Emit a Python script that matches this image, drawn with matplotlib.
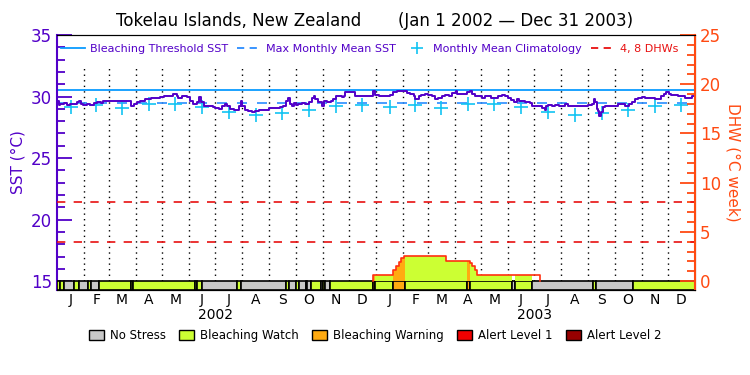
import numpy as np
import matplotlib
matplotlib.use('Agg')
import matplotlib.pyplot as plt
from matplotlib.lines import Line2D
from matplotlib.patches import Patch
from matplotlib.ticker import MultipleLocator

# ------------------------------------------------------------------------------
# data (day 0 = Jan 1 2002)

sst_day = [0, 2, 4, 8, 11, 15, 19, 23, 25, 27, 30, 34, 36, 38, 42, 46, 50, 53, 85, 88,
           91, 95, 101, 107, 112, 118, 122, 126, 133, 137, 139, 143, 147, 149, 152, 156,
           160, 163, 165, 168, 173, 179, 181, 185, 189, 192, 194, 198, 202, 208, 210, 212,
           215, 219, 223, 227, 231, 242, 246, 255, 259, 262, 264, 267, 269, 271, 273, 276,
           280, 284, 288, 292, 294, 295, 299, 303, 305, 309, 313, 316, 319, 326, 328, 330,
           341, 360, 362, 364,
           368, 377, 381, 385, 389, 400, 404, 408, 410, 414, 417, 421, 425, 429, 432, 435,
           436, 440, 444, 448, 452, 456, 458, 461, 465, 469, 472, 475, 478, 482, 486, 490,
           494, 497, 501, 505, 509, 513, 516, 519, 523, 526, 529, 536, 539, 541, 544, 555,
           558, 559, 562, 566, 570, 574, 577, 581, 585, 589, 593, 600, 608, 612, 614, 616,
           618, 619, 620, 622, 625, 627, 642, 646, 650, 654, 658, 661, 665, 669, 673, 680,
           684, 688, 691, 694, 697, 700, 703, 711, 715, 719, 722, 726, 730]
sst_val = [29.65, 29.32, 29.38, 29.48, 29.32, 29.43, 29.38, 29.54, 29.65, 29.43, 29.32, 29.38,
           29.43, 29.32, 29.48, 29.54, 29.48, 29.65, 29.27, 29.43, 29.54, 29.65, 29.76, 29.86,
           29.92, 29.97, 30.03, 30.08, 30.19, 30.08, 29.92, 30.08, 30.03, 29.97, 29.65, 29.43,
           29.59, 29.97, 29.54, 29.27, 29.21, 29.16, 29.10, 28.99, 29.27, 29.43, 29.27, 28.99,
           28.89, 29.27, 29.65, 29.27, 28.94, 28.83, 28.78, 28.83, 28.94, 29.05, 29.10, 29.16,
           29.27, 29.65, 29.86, 29.43, 29.27, 29.48, 29.32, 29.43, 29.48, 29.38, 29.54, 29.86,
           30.03, 29.76, 29.59, 29.27, 29.65, 29.59, 29.65, 29.81, 30.08, 29.97, 30.08, 30.35,
           30.08, 30.03, 30.46, 30.14,
           30.08, 30.03, 30.14, 30.35, 30.46, 30.30, 30.19, 30.03, 29.81, 30.03, 30.14, 30.19,
           30.14, 30.03, 29.81, 29.76, 29.92, 30.03, 30.14, 30.08, 30.30, 30.41, 30.24, 30.19,
           30.24, 30.35, 30.41, 30.19, 30.08, 30.03, 29.92, 30.08, 30.03, 29.86, 29.92, 30.03,
           30.14, 30.08, 29.92, 29.70, 29.59, 29.81, 29.65, 29.59, 29.54, 29.48, 29.27, 29.05,
           28.94, 29.27, 29.32, 29.27, 29.32, 29.21, 29.27, 29.43, 29.27, 29.21, 29.27, 29.21,
           29.32, 29.38, 29.81, 29.59, 28.99, 28.83, 28.40, 28.78, 29.16, 29.27, 29.38, 29.43,
           29.27, 29.38, 29.54, 29.76, 29.92, 29.97, 29.92, 29.86, 29.76, 29.81, 30.08, 30.19,
           30.35, 30.19, 30.14, 30.08, 30.03, 29.92, 29.86, 30.08, 30.08]

mmm = 29.5
threshold = 30.5
climatology = [29.15, 29.3, 29.1, 29.42, 29.38, 29.15, 28.76, 28.5, 28.7, 28.9, 29.2, 29.35]

dhw_day = [0, 361, 385, 388, 391, 394, 397, 445, 473, 475, 478, 480, 553]
dhw_val = [0, 0.65, 1.13, 1.54, 1.95, 2.3, 2.58, 2.03, 1.82, 1.54, 1.13, 0.65, 0]
dhw_levels = [4, 8]

stress_start = [0, 3, 8, 20, 25, 35, 39, 48, 85, 87, 158, 160, 166, 206, 211, 262, 266,
                274, 277, 285, 286, 291, 302, 304, 307, 312, 362, 364, 385, 398, 469, 473,
                521, 524, 544, 613, 617, 659]
stress_level = [1, 1, 0, 1, 0, 1, 0, 1, 1, 1, 1, 1, 0, 1, 0, 1, 0, 1, 0, 0, 0, 1, 0, 1, 0,
                1, 2, 1, 2, 1, 2, 1, 0, 1, 0, 1, 0, 1]

month_letters = ['J', 'F', 'M', 'A', 'M', 'J', 'J', 'A', 'S', 'O', 'N', 'D']
years = ['2002', '2003']
stress_names = ['No Stress', 'Bleaching Watch', 'Bleaching Warning', 'Alert Level 1', 'Alert Level 2']

# ------------------------------------------------------------------------------
# colours

PURPLE = '#5200C8'
AXRED = '#FF4A12'
stress_colors = ['#C8C8C8', '#CCFF33', '#FFAA11', '#F00000', '#960000']

n_days = 730
months = np.arange('2002-01', '2004-01', dtype='datetime64[M]')
month_start = (months.astype('datetime64[D]') - np.datetime64('2002-01-01')).astype(int)
month_end = np.append(month_start[1:], n_days)
month_mid = (month_start + month_end) / 2
stress_end = stress_start[1:] + [n_days]

ylo, yhi = 14.28, 35.0

fig = plt.figure(figsize=(7.5, 3.75), dpi=100)
ax = fig.add_axes([0.076, 0.2267, 0.8507, 0.68])
ax.set_xlim(0, n_days)
ax.set_ylim(ylo, yhi)

# month grid
ax.vlines(month_start[1:], 15, 32.6, colors='black', linestyles=(0, (1, 3)), lw=1, zorder=1)

# stress bar along the bottom
for s, e, lv in zip(stress_start, stress_end, stress_level):
    ax.bar(s, height=15 - ylo, width=e - s, bottom=ylo, align='edge',
           color=stress_colors[lv], edgecolor='black', lw=1.2, zorder=3)

ax.axhline(threshold, color='#0A9BFF', lw=1.3, zorder=2)
ax.axhline(mmm, color='#2A8CFF', lw=1.2, ls=(0, (6, 6)), zorder=2)
ax.plot(month_mid, climatology * 2, ls='none', marker='+', ms=10, mew=1.2,
        color='#12C4F2', zorder=4)
ax.plot(sst_day, sst_val, drawstyle='steps-post', color=PURPLE, lw=1.4, zorder=5)

# DHW on the right axis
ax2 = ax.twinx()
ax2.set_ylim((ylo - 15) * 1.25, 25)
days = np.arange(n_days + 1)
dhw_daily = np.array(dhw_val)[np.searchsorted(dhw_day, days, side='right') - 1]
for s, e, lv in zip(stress_start, stress_end, stress_level):
    if lv == 0:
        continue
    xs = days[s:e + 1]
    ax2.fill_between(xs, 0, dhw_daily[s:e + 1], step='post', color=stress_colors[lv], lw=0)
ax2.step([dhw_day[1]] + dhw_day[1:], [0] + dhw_val[1:], where='post', color='#FF3010', lw=1.2)
for lv in dhw_levels:
    ax2.axhline(lv, color='#E81010', ls=(0, (5, 5)), lw=1.2)

# axes styling
ax.set_xticks(month_mid)
ax.set_xticklabels(month_letters * 2, fontsize=10)
ax.tick_params(axis='x', length=0, pad=2)
for i, yr in enumerate(years):
    ax.text(month_mid[i * 12:(i + 1) * 12].mean(), -0.07, yr, fontsize=10,
            ha='center', va='top', transform=ax.get_xaxis_transform())

ax.set_yticks([15, 20, 25, 30, 35])
ax.yaxis.set_minor_locator(MultipleLocator(1))
ax.tick_params(axis='y', which='major', direction='in', length=11, width=1.3,
               colors=PURPLE, labelsize=12)
ax.tick_params(axis='y', which='minor', direction='in', length=6, width=1.3, colors=PURPLE)
ax.spines['left'].set_color(PURPLE)
ax.spines['left'].set_linewidth(1.5)
ax.set_ylabel('SST (°C)', color=PURPLE, fontsize=11, labelpad=4)

ax2.set_yticks([0, 5, 10, 15, 20, 25])
ax2.yaxis.set_minor_locator(MultipleLocator(1))
ax2.tick_params(axis='y', which='major', direction='in', length=11, width=1.3,
                colors=AXRED, labelsize=12)
ax2.tick_params(axis='y', which='minor', direction='in', length=6, width=1.3, colors=AXRED)
ax2.spines['right'].set_color(AXRED)
ax2.spines['right'].set_linewidth(1.5)
ax2.spines['left'].set_visible(False)
ax2.set_ylabel('DHW (°C week)', color=AXRED, fontsize=11, rotation=270, labelpad=14)

# top legend
handles = [Line2D([], [], color='#0A9BFF', lw=1.3),
           Line2D([], [], color='#2A8CFF', lw=1.3, ls=(0, (4, 3))),
           Line2D([], [], color='#12C4F2', marker='+', ms=9, mew=1.2, ls='none'),
           Line2D([], [], color='#E81010', lw=1.3, ls=(0, (4, 3)))]
labels = ['Bleaching Threshold SST', 'Max Monthly Mean SST', 'Monthly Mean Climatology', '4, 8 DHWs']
ax2.legend(handles, labels, loc='upper center', bbox_to_anchor=(0.49, 1.0), ncol=4,
           frameon=False, fontsize=8, labelcolor=[PURPLE, PURPLE, PURPLE, '#E81010'],
           handlelength=2.2, handletextpad=0.4, columnspacing=0.8, borderaxespad=0.4)

# bottom legend
patches = [Patch(facecolor=c, edgecolor='black') for c in stress_colors]
fig.legend(patches, stress_names, loc='center', bbox_to_anchor=(0.5, 0.105), ncol=5,
           frameon=False, fontsize=8.5, handlelength=1.3, handleheight=1.0,
           handletextpad=0.5, columnspacing=1.1)

fig.text(0.5, 0.945, 'Tokelau Islands, New Zealand       (Jan 1 2002 — Dec 31 2003)',
         ha='center', va='center', fontsize=12)

fig.savefig('out.png', dpi=100)
